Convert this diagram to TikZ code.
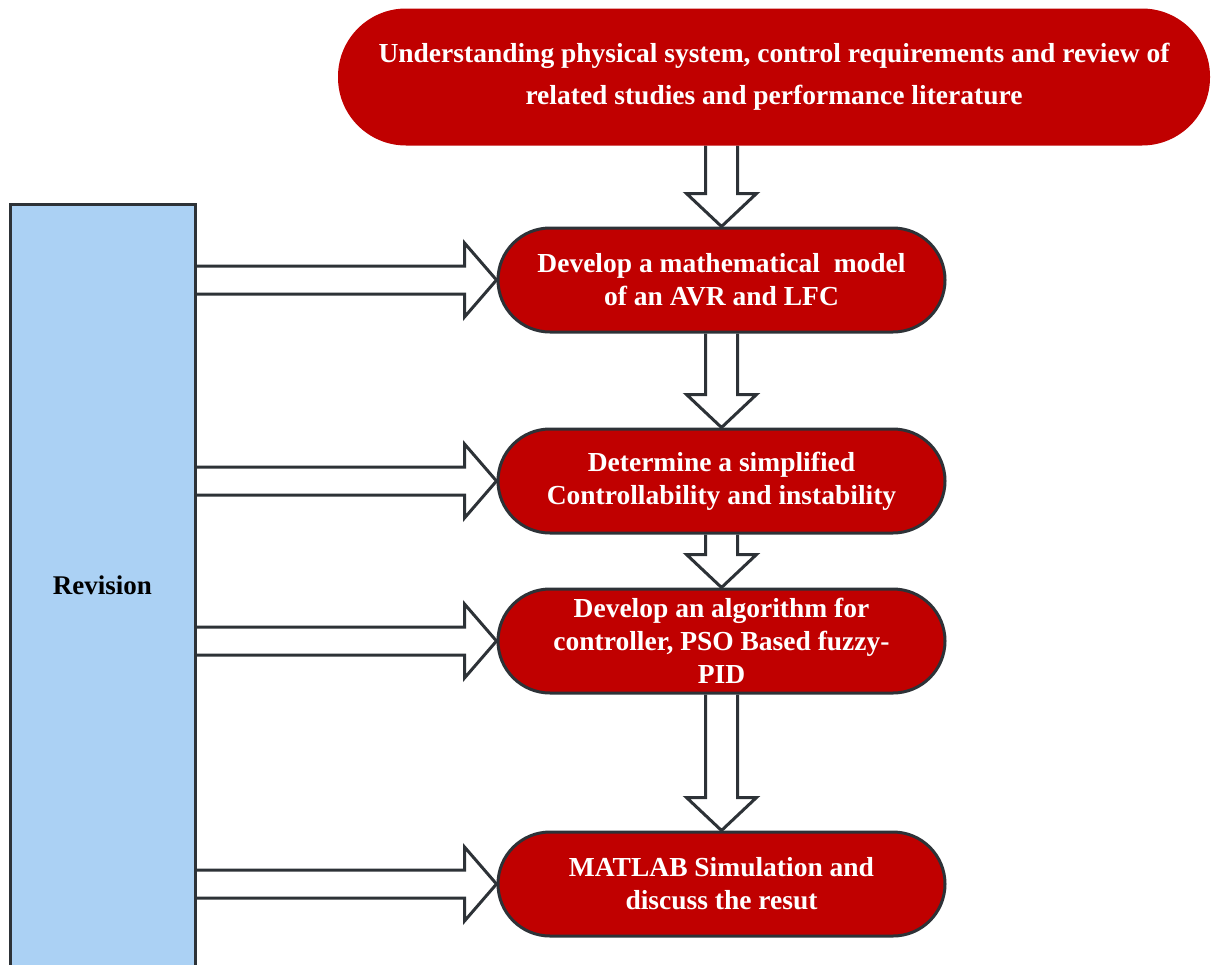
\documentclass[tikz,border=0pt]{standalone}
\usepackage{fontspec}
\setmainfont{Liberation Serif}
\usetikzlibrary{calc,backgrounds}
\definecolor{boxred}{RGB}{192,0,0}
\definecolor{edgegray}{RGB}{45,50,55}
\definecolor{revblue}{RGB}{171,209,244}
\tikzset{
  stepbox/.style={draw=edgegray, line width=3pt, fill=boxred, text=white,
    font=\bfseries\fontsize{27.5}{33}\selectfont, align=center,
    minimum width=447pt, minimum height=104pt, rounded corners=52pt, inner sep=0pt},
  topbox/.style={fill=boxred, text=white,
    font=\bfseries\fontsize{27.5}{42}\selectfont, align=center,
    minimum width=872pt, minimum height=137pt, rounded corners=68pt, inner sep=0pt},
  revbox/.style={draw=edgegray, line width=3pt, fill=revblue,
    font=\bfseries\fontsize{27}{30}\selectfont,
    minimum width=185pt, minimum height=762pt, inner sep=0pt},
  blockarrow/.style={draw=edgegray, line width=3pt, fill=white, line join=miter},
}
\newcommand{\varrowblk}[2]{%
  \filldraw[blockarrow] ($(#1)+(-16,0)$) -- ($(#2)+(-16,-33)$) -- ($(#2)+(-35,-33)$)
    -- (#2) -- ($(#2)+(35,-33)$) -- ($(#2)+(16,-33)$) -- ($(#1)+(16,0)$);}
\newcommand{\harrowblk}[2]{%
  \filldraw[blockarrow] ($(#1)+(0,-14)$) -- ($(#2)+(-32,-14)$) -- ($(#2)+(-32,-37)$)
    -- (#2) -- ($(#2)+(-32,37)$) -- ($(#2)+(-32,14)$) -- ($(#1)+(0,14)$);}
\begin{document}
\begin{tikzpicture}[x=1pt,y=-1pt]
\clip (0,0) rectangle (1212,964);
\node[topbox] (b1) at (774,77) {Understanding physical system, control requirements and review of\\related studies and performance literature};
\node[revbox] (rev) at (102.5,585) {Revision};
\node[stepbox] (b2) at (721.5,280) {Develop a mathematical\ \ model\\of an AVR and LFC};
\node[stepbox] (b3) at (721.5,481) {Determine a simplified\\Controllability and instability};
\node[stepbox] (b4) at (721.5,641) {Develop an algorithm for\\controller, PSO Based fuzzy-\\PID};
\node[stepbox] (b5) at (721.5,884) {MATLAB Simulation and\\discuss the resut};
\begin{scope}[on background layer]
  \fill[white] (0,0) rectangle (1212,964);
  \coordinate (d1) at (b2.north |- b1.south);
  \varrowblk{d1}{b2.north}
  \varrowblk{b2.south}{b3.north}
  \varrowblk{b3.south}{b4.north}
  \varrowblk{b4.south}{b5.north}
  \coordinate (h2) at (rev.east |- b2.west);
  \coordinate (h3) at (rev.east |- b3.west);
  \coordinate (h4) at (rev.east |- b4.west);
  \coordinate (h5) at (rev.east |- b5.west);
  \harrowblk{h2}{b2.west}
  \harrowblk{h3}{b3.west}
  \harrowblk{h4}{b4.west}
  \harrowblk{h5}{b5.west}
\end{scope}
\end{tikzpicture}
\end{document}
